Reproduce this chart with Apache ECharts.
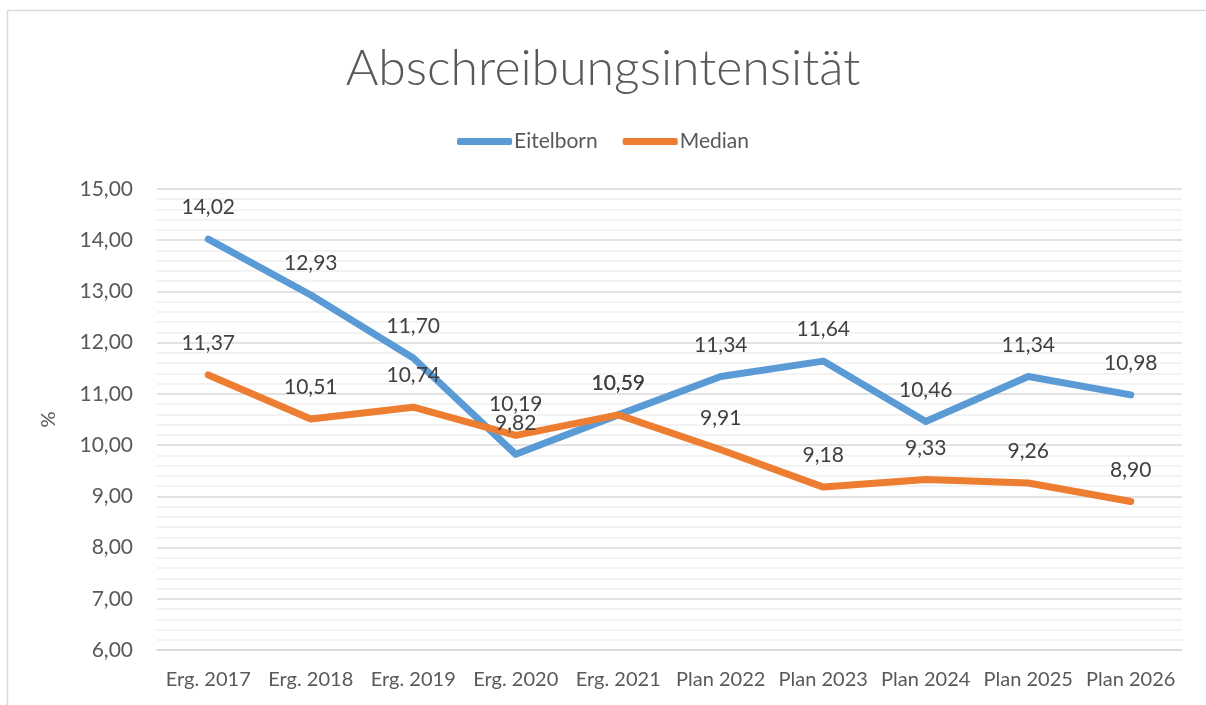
<!DOCTYPE html>
<html>
<head>
<meta charset="utf-8">
<script src="https://cdn.jsdelivr.net/npm/echarts@6/dist/echarts.min.js"></script>
<style>
  html, body { margin: 0; padding: 0; background: #fff; }
  #chart { width: 1206px; height: 705px; }
</style>
</head>
<body>
<div id="chart"></div>
<script>
var categories = ['Erg. 2017', 'Erg. 2018', 'Erg. 2019', 'Erg. 2020', 'Erg. 2021', 'Plan 2022', 'Plan 2023', 'Plan 2024', 'Plan 2025', 'Plan 2026'];
var eitelborn = [14.02, 12.93, 11.70, 9.82, 10.59, 11.34, 11.64, 10.46, 11.34, 10.98];
var median = [11.37, 10.51, 10.74, 10.19, 10.59, 9.91, 9.18, 9.33, 9.26, 8.90];

var font = 'Lato, "Open Sans", sans-serif';

function fmt(v) {
  return v.toFixed(2).replace('.', ',');
}

var chart = echarts.init(document.getElementById('chart'));

function lineSeries(name, data, color) {
  return {
    name: name,
    type: 'line',
    data: data,
    symbol: 'circle',
    symbolSize: 2,
    showSymbol: true,
    itemStyle: { color: color },
    lineStyle: { color: color, width: 7, cap: 'round', join: 'round' },
    label: {
      show: true,
      position: 'top',
      distance: 20,
      color: '#404040',
      fontSize: 21,
      fontFamily: font,
      formatter: function (p) { return fmt(p.value); }
    },
    animation: false
  };
}

chart.setOption({
  backgroundColor: '#fff',
  graphic: [{
    type: 'rect',
    shape: { x: 7.5, y: 10.5, width: 1220, height: 720 },
    style: { fill: 'none', stroke: '#D9D9D9', lineWidth: 1.5 },
    silent: true
  }],
  title: {
    text: 'Abschreibungsintensität',
    left: 'center',
    top: 39,
    textStyle: { color: '#595959', fontSize: 50, fontWeight: 300, fontFamily: font }
  },
  legend: {
    top: 126,
    left: 'center',
    itemWidth: 55,
    itemHeight: 7,
    itemGap: 25,
    icon: 'roundRect',
    textStyle: { color: '#595959', fontSize: 21, fontFamily: font, padding: [0, 0, 0, -3] },
    data: ['Eitelborn', 'Median']
  },
  grid: {
    left: 157,
    right: 24,
    top: 189,
    bottom: 55
  },
  xAxis: {
    type: 'category',
    data: categories,
    boundaryGap: true,
    axisLine: { show: true, lineStyle: { color: '#D9D9D9', width: 1.5 } },
    axisTick: { show: false },
    axisLabel: { interval: 0, color: '#595959', fontSize: 20, fontFamily: font, margin: 20 }
  },
  yAxis: {
    type: 'value',
    name: '%',
    nameLocation: 'middle',
    nameGap: 98,
    nameRotate: 90,
    nameTextStyle: { color: '#595959', fontSize: 20, fontFamily: font },
    min: 6,
    max: 15,
    interval: 1,
    axisLine: { show: false },
    axisTick: { show: false },
    axisLabel: {
      color: '#595959',
      fontSize: 21,
      fontFamily: font,
      margin: 24,
      formatter: function (v) { return fmt(v); }
    },
    splitLine: { lineStyle: { color: '#D9D9D9', width: 1.5 } },
    minorTick: { show: false, splitNumber: 5 },
    minorSplitLine: { show: true, lineStyle: { color: '#F0F0F0', width: 1.5 } }
  },
  series: [
    lineSeries('Eitelborn', eitelborn, '#5B9BD5'),
    lineSeries('Median', median, '#ED7D31')
  ]
});
</script>
</body>
</html>
